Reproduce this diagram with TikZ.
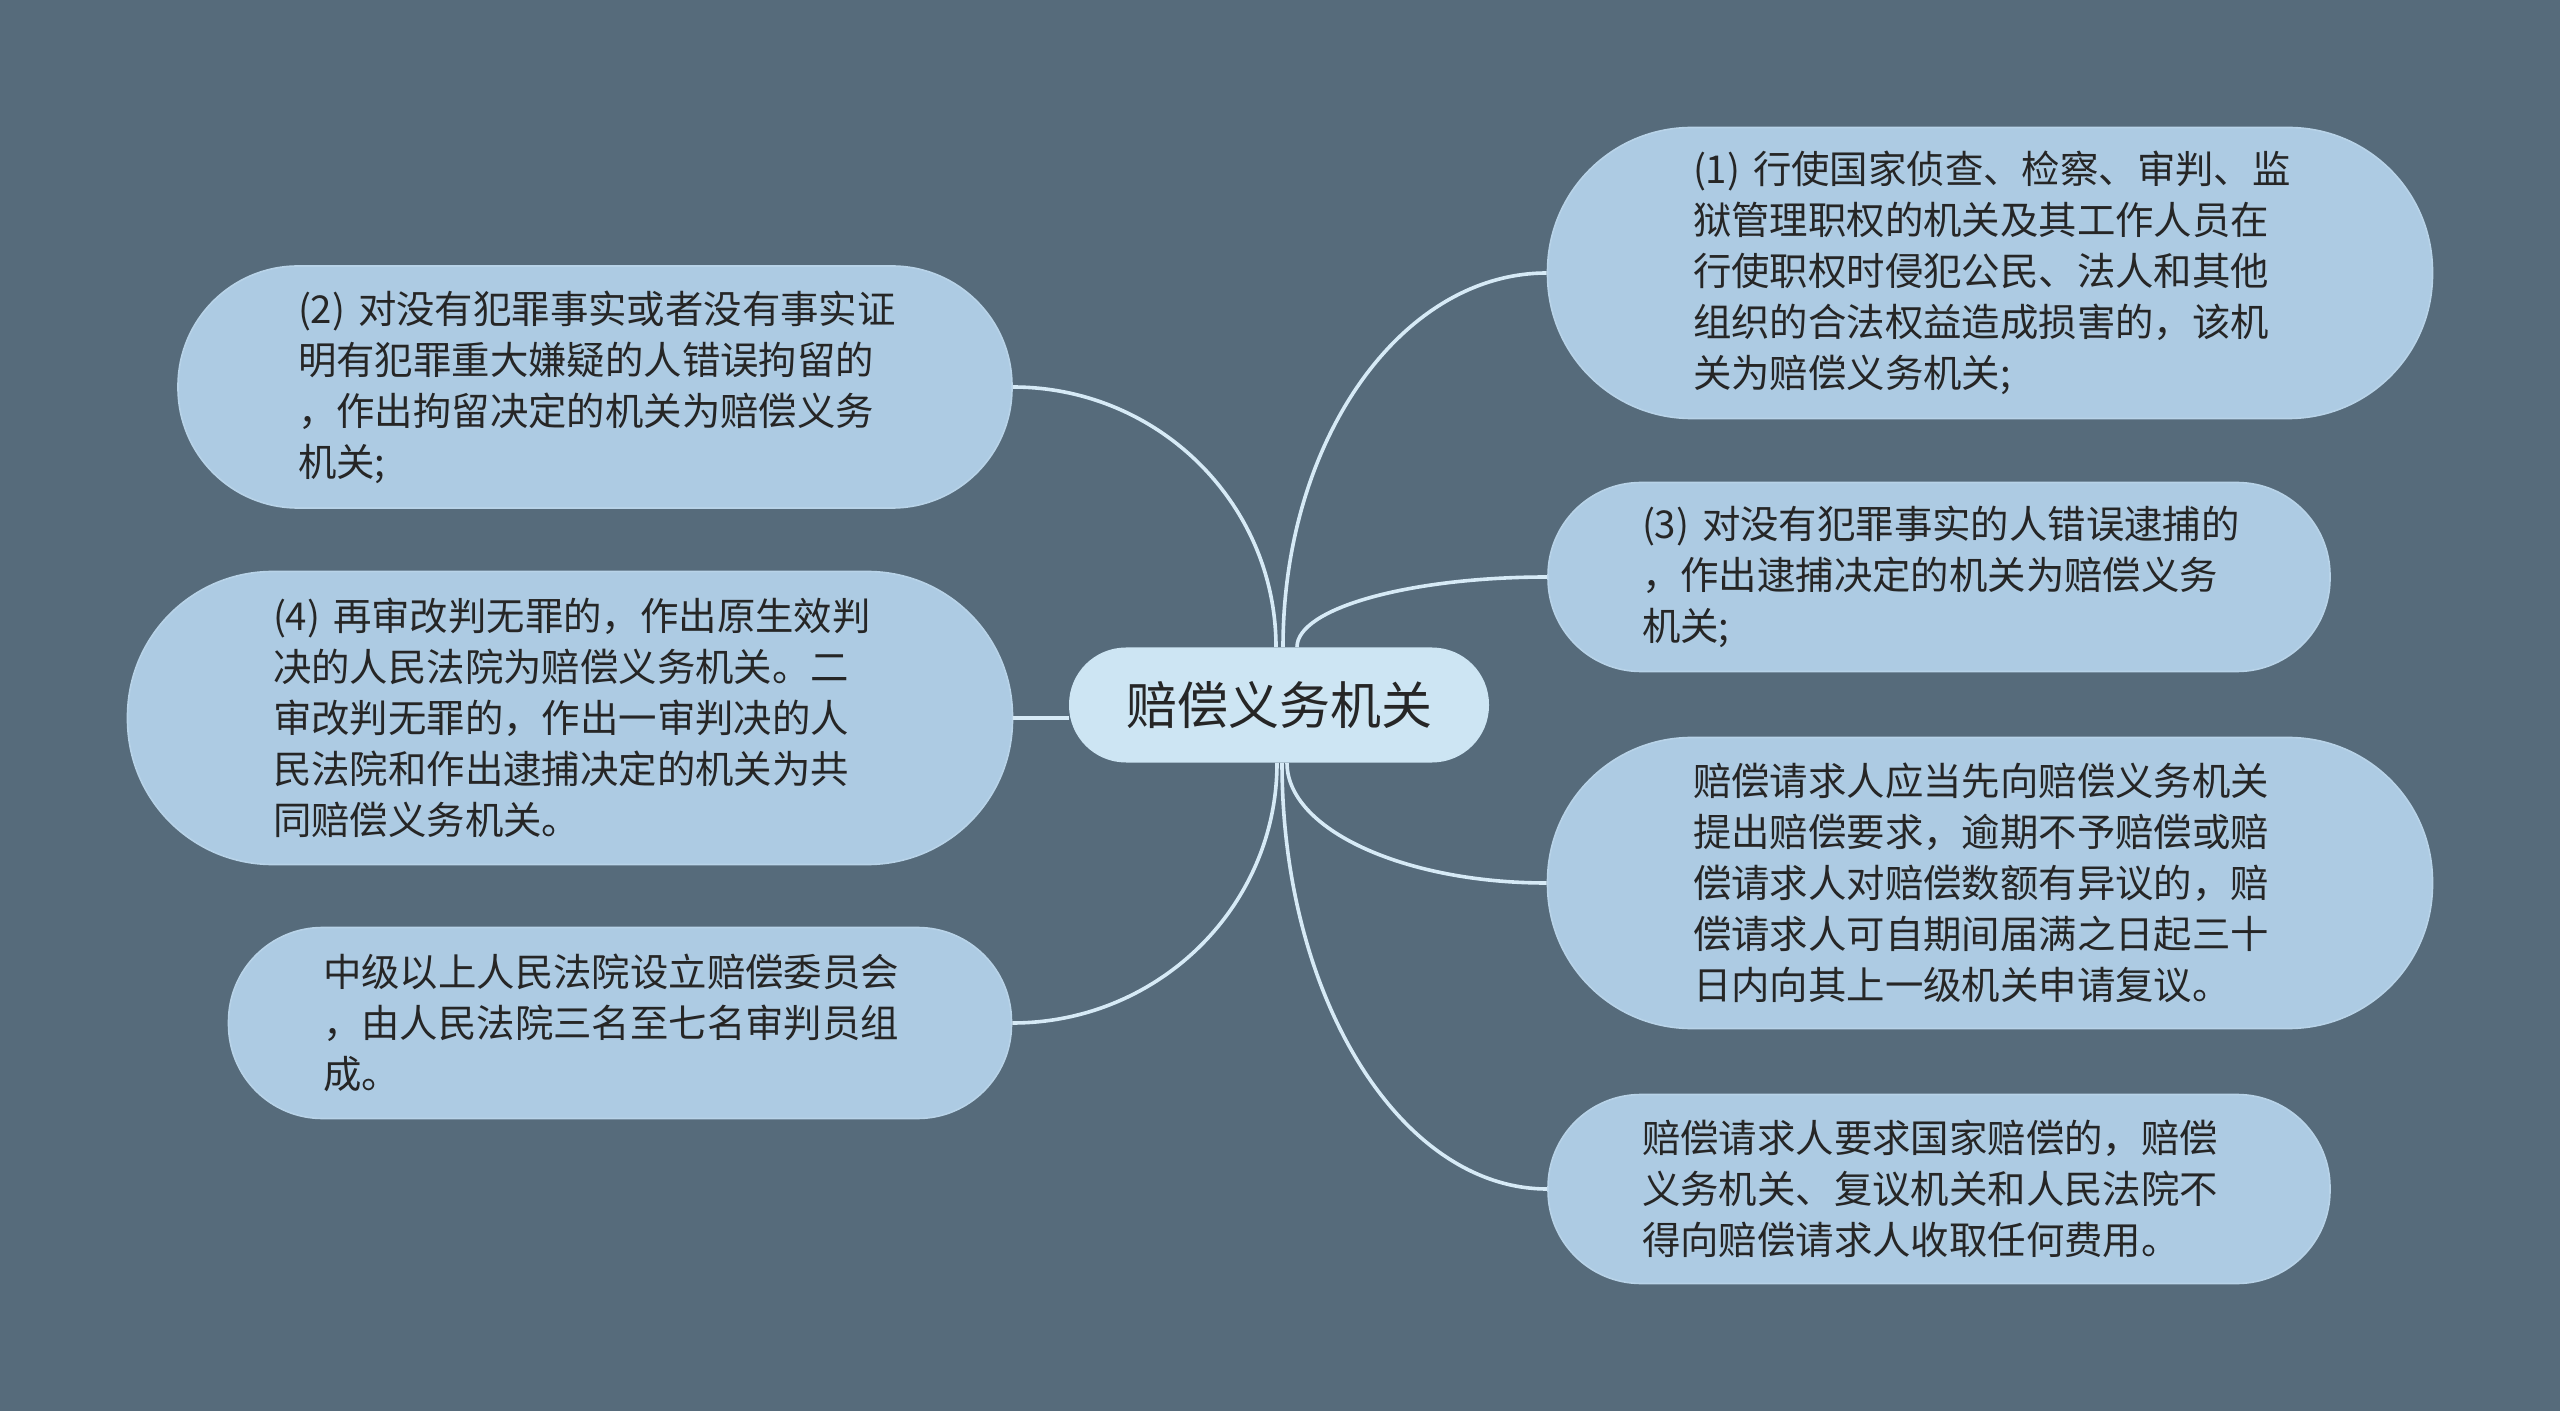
\documentclass[tikz,border=0pt]{standalone}
\usepackage{fontspec}
\setmainfont{Noto Sans CJK SC}
\usetikzlibrary{calc}
\definecolor{bg}{HTML}{566B7B}
\definecolor{boxfill}{HTML}{ADCBE3}
\definecolor{boxedge}{HTML}{B8D3E8}
\definecolor{rootfill}{HTML}{CDE5F3}
\definecolor{linkcol}{HTML}{D6EAF6}
\definecolor{txt}{HTML}{262626}
\tikzset{
  leaf/.style={draw=boxedge, line width=0.8pt, fill=boxfill, text=txt, align=left,
    text width=297pt, font=\fontsize{19.2}{25.5}\selectfont, inner sep=0pt},
  bigleaf/.style={leaf, minimum width=442.5pt, minimum height=145.5pt, rounded corners=72pt},
  smallleaf/.style={leaf, minimum width=391pt, minimum height=94.5pt, rounded corners=46.5pt},
  rootnode/.style={fill=rootfill, text=txt,
    font=\fontsize{25.5}{30}\selectfont, inner sep=0pt,
    minimum width=210pt, minimum height=57.5pt, rounded corners=28.5pt},
  link/.style={draw=linkcol, line width=1.8pt}
}
\newcommand{\arclink}[2]{%
  \draw[link] (#1) .. controls ($(#1)!0.552!(#1|-#2)$) and ($(#2)!0.552!(#1|-#2)$) .. (#2);}
\begin{document}
\begin{tikzpicture}[x=0.5pt,y=-0.5pt]
\fill[bg] (0,0) rectangle (2560,1411);
\useasboundingbox (0,0) rectangle (2560,1411);

\node[rootnode] (root) at (1279,705) {赔偿义务机关};

\node[bigleaf] (b1) at (1990,273) {(1)~行使国家侦查、检察、审判、监\\狱管理职权的机关及其工作人员在\\行使职权时侵犯公民、法人和其他\\组织的合法权益造成损害的，该机\\关为赔偿义务机关;};
\node[smallleaf] (b3) at (1939,577) {(3)~对没有犯罪事实的人错误逮捕的\\，作出逮捕决定的机关为赔偿义务\\机关;};
\node[bigleaf] (b5) at (1990,883) {赔偿请求人应当先向赔偿义务机关\\提出赔偿要求，逾期不予赔偿或赔\\偿请求人对赔偿数额有异议的，赔\\偿请求人可自期间届满之日起三十\\日内向其上一级机关申请复议。};
\node[smallleaf] (b6) at (1939,1189) {赔偿请求人要求国家赔偿的，赔偿\\义务机关、复议机关和人民法院不\\得向赔偿请求人收取任何费用。};

\node[leaf, minimum width=417pt, minimum height=121pt, rounded corners=60pt] (b2) at (595,387) {(2)~对没有犯罪事实或者没有事实证\\明有犯罪重大嫌疑的人错误拘留的\\，作出拘留决定的机关为赔偿义务\\机关;};
\node[leaf, minimum width=442.5pt, minimum height=146.5pt, rounded corners=72.5pt] (b4) at (570,718) {(4)~再审改判无罪的，作出原生效判\\决的人民法院为赔偿义务机关。二\\审改判无罪的，作出一审判决的人\\民法院和作出逮捕决定的机关为共\\同赔偿义务机关。};
\node[leaf, minimum width=391.5pt, minimum height=95.5pt, rounded corners=47pt] (b7) at (620,1023) {中级以上人民法院设立赔偿委员会\\，由人民法院三名至七名审判员组\\成。};

\coordinate (t1) at ($(root.north)+(4,0)$);
\coordinate (t3) at ($(root.north)+(18,0)$);
\coordinate (t2) at ($(root.north)+(-3,0)$);
\coordinate (u5) at ($(root.south)+(8,0)$);
\coordinate (u6) at ($(root.south)+(3,0)$);
\coordinate (u7) at ($(root.south)+(-2,0)$);

\arclink{t1}{b1.west}
\arclink{t3}{b3.west}
\arclink{t2}{b2.east}
\arclink{u5}{b5.west}
\arclink{u6}{b6.west}
\arclink{u7}{b7.east}
\draw[link] (b4.east) -- (b4.east -| root.west);
\end{tikzpicture}
\end{document}
